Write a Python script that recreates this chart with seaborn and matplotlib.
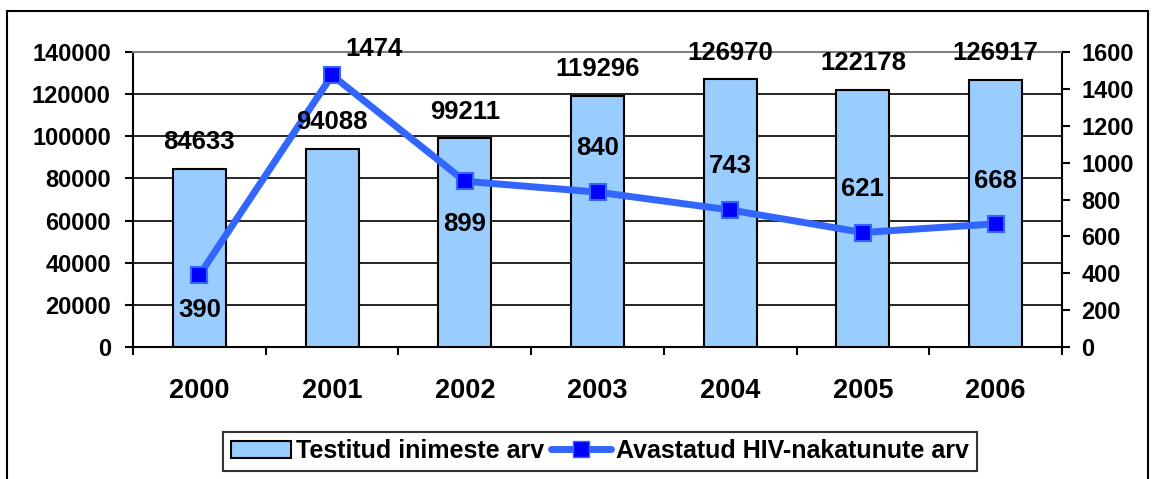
import matplotlib
matplotlib.use('Agg')
import matplotlib.pyplot as plt
import seaborn as sns
import pandas as pd
from matplotlib.patches import Rectangle
from matplotlib.lines import Line2D
from matplotlib.patches import Patch

# andmed
aastad = ['2000', '2001', '2002', '2003', '2004', '2005', '2006']
testitud = [84633, 94088, 99211, 119296, 126970, 122178, 126917]
hiv = [390, 1474, 899, 840, 743, 621, 668]
# HIV siltide nihe punktist (punktides, x ja y)
hiv_silt_dx = [0, 30, 0, 0, 0, 0, 0]
hiv_silt_dy = [-25, 19, -31, 32, 32, 31, 31]

sns.set_style('white')
plt.rcParams['font.family'] = ['Liberation Sans', 'DejaVu Sans']
plt.rcParams['font.weight'] = 'bold'
plt.rcParams['text.color'] = 'black'
plt.rcParams['xtick.color'] = 'black'
plt.rcParams['ytick.color'] = 'black'
plt.rcParams['xtick.labelcolor'] = 'black'
plt.rcParams['ytick.labelcolor'] = 'black'

df = pd.DataFrame({'aasta': aastad, 'testitud': testitud, 'hiv': hiv})

fig = plt.figure(figsize=(11.54, 4.79), dpi=100)
ax = fig.add_axes([133 / 1154, 1 - 347 / 479, 929 / 1154, 295 / 479])

sns.barplot(data=df, x='aasta', y='testitud', color='#99CCFF', width=0.4,
            edgecolor='black', linewidth=1.5, saturation=1, ax=ax, zorder=3)
ax.set_ylim(0, 140000)
ax.set_yticks(range(0, 140001, 20000))
ax.set_xlim(-0.5, len(aastad) - 0.5)
ax.grid(axis='y', color='black', linewidth=1.2, zorder=0)
ax.set_axisbelow(True)
ax.set_xlabel('')
ax.set_ylabel('')
for s in ['left', 'bottom', 'right']:
    ax.spines[s].set_color('black')
    ax.spines[s].set_linewidth(1.5)
ax.spines['top'].set_color('#808080')
ax.spines['top'].set_linewidth(1.5)
ax.tick_params(axis='y', labelsize=17, length=6, width=1.5, direction='out', left=True, pad=10)
ax.tick_params(axis='x', labelsize=19.5, length=0, pad=22)
ax.set_xticks([i - 0.5 for i in range(len(aastad) + 1)], minor=True)
ax.tick_params(axis='x', which='minor', length=6, width=1.5, bottom=True)
for lab in ax.get_xticklabels() + ax.get_yticklabels():
    lab.set_fontweight('bold')

ax2 = ax.twinx()
sns.lineplot(x=list(range(len(aastad))), y=hiv, color='#3366FF', linewidth=5,
             marker='s', markersize=12, markerfacecolor='#0000FF',
             markeredgecolor='#3366FF', markeredgewidth=1.5, ax=ax2, zorder=5)
ax2.set_ylim(0, 1600)
ax2.set_yticks(range(0, 1601, 200))
ax2.set_xlim(-0.5, len(aastad) - 0.5)
ax2.tick_params(axis='y', labelsize=17, length=6, width=1.5, direction='out', right=True, pad=8)
for lab in ax2.get_yticklabels():
    lab.set_fontweight('bold')
for s in ax2.spines.values():
    s.set_visible(False)
ax2.grid(False)

# tulpade sildid (joone peal)
for i, v in enumerate(testitud):
    ax2.annotate(str(v), (i, v), xycoords=ax.transData, xytext=(0, 19),
                 textcoords='offset points', ha='center', va='center',
                 fontsize=18.5, fontweight='bold', zorder=6)

for i, v in enumerate(hiv):
    ax2.annotate(str(v), (i, v), xytext=(hiv_silt_dx[i], hiv_silt_dy[i]),
                 textcoords='offset points', ha='center', va='center',
                 fontsize=18.5, fontweight='bold', zorder=6)

# legend
handles = [Patch(facecolor='#99CCFF', edgecolor='black', linewidth=1.5),
           Line2D([], [], color='#3366FF', linewidth=5, marker='s', markersize=11,
                  markerfacecolor='#0000FF', markeredgecolor='#3366FF')]
leg = fig.legend(handles, ['Testitud inimeste arv', 'Avastatud HIV-nakatunute arv'],
                 loc='center', bbox_to_anchor=(600 / 1154, 1 - 451 / 479), ncol=2,
                 frameon=True, fancybox=False, fontsize=18, handlelength=2.4,
                 columnspacing=0.3, handletextpad=0.2, borderpad=0.3)
leg.get_frame().set_edgecolor('black')
leg.get_frame().set_linewidth(1.5)
for t in leg.get_texts():
    t.set_fontweight('bold')

# välimine raam
fig.patches.append(Rectangle((7 / 1154, -0.05), 1141 / 1154, 1.05 - 11 / 479,
                             transform=fig.transFigure, fill=False,
                             edgecolor='black', linewidth=1.5))

fig.savefig('out.png', dpi=100, facecolor='white')
